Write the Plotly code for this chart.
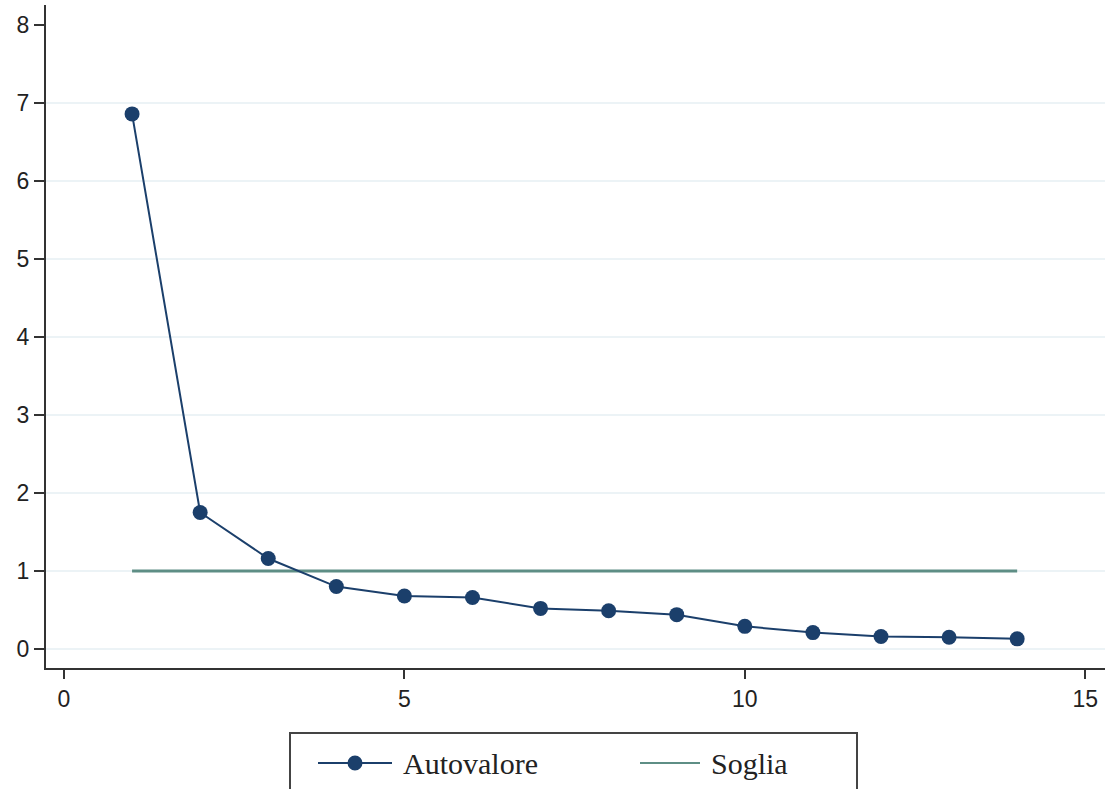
import plotly.graph_objects as go

# Scree plot: eigenvalues per component with the Kaiser threshold
componenti = list(range(1, 15))
autovalori = [6.86, 1.75, 1.16, 0.80, 0.68, 0.66, 0.52, 0.49, 0.44, 0.29, 0.21, 0.16, 0.15, 0.13]
soglia_x = [1, 14]
soglia_y = [1, 1]

x_ticks = [0, 5, 10, 15]
y_ticks = [0, 1, 2, 3, 4, 5, 6, 7, 8]
# horizontal grid levels (none on the top border tick)
grid_levels = [0, 1, 2, 3, 4, 5, 6, 7]

navy = "#1b3f6b"
teal = "#5e8e85"
axis_col = "#333333"
grid_col = "#e6eff3"

fig = go.Figure()
fig.add_trace(go.Scatter(
    x=soglia_x, y=soglia_y, mode="lines", name="Soglia",
    line=dict(color=teal, width=3), showlegend=False,
))
fig.add_trace(go.Scatter(
    x=componenti, y=autovalori, mode="lines+markers", name="Autovalore",
    line=dict(color=navy, width=2),
    marker=dict(color=navy, size=15),
    showlegend=False,
))

# Plot area occupies pixels 46..1105 horizontally, 5..668 vertically
L, R, T, B = 46, 2, 5, 121
W, H = 1107, 789
pw, ph = W - L - R, H - T - B


def px(xp):
    return (xp - L) / pw


def py(yp):
    return (H - B - yp) / ph


shapes = []
annotations = []

for g in grid_levels:
    shapes.append(dict(type="line", xref="paper", yref="y", x0=0, x1=1, y0=g, y1=g,
                       line=dict(color=grid_col, width=1.5), layer="below"))

# Legend frame (runs past the bottom edge of the canvas)
shapes.append(dict(type="rect", xref="paper", yref="paper",
                   x0=px(290), x1=px(857), y0=py(806), y1=py(733),
                   line=dict(color="#444444", width=2), fillcolor="white"))
ly = py(763)
shapes.append(dict(type="line", xref="paper", yref="paper",
                   x0=px(318), x1=px(392), y0=ly, y1=ly,
                   line=dict(color=navy, width=2)))
shapes.append(dict(type="circle", xref="paper", yref="paper",
                   x0=px(347.5), x1=px(362.5), y0=py(770.5), y1=py(755.5),
                   line=dict(color=navy, width=0), fillcolor=navy))
shapes.append(dict(type="line", xref="paper", yref="paper",
                   x0=px(640), x1=px(700), y0=ly, y1=ly,
                   line=dict(color=teal, width=2)))
legend_font = dict(family="Liberation Serif, Times New Roman, serif", size=30, color="#222222")
annotations.append(dict(text="Autovalore", xref="paper", yref="paper",
                        x=px(401), y=ly, xanchor="left", yanchor="middle",
                        showarrow=False, font=legend_font))
annotations.append(dict(text="Soglia", xref="paper", yref="paper",
                        x=px(709), y=ly, xanchor="left", yanchor="middle",
                        showarrow=False, font=legend_font))

tick_font = dict(family="Liberation Sans, Arial, sans-serif", size=23, color="#222222")

fig.update_layout(
    width=W, height=H,
    margin=dict(l=L, r=R, t=T, b=B, autoexpand=False),
    paper_bgcolor="white", plot_bgcolor="white",
    shapes=shapes, annotations=annotations,
    xaxis=dict(
        range=[-0.264, 15.29], tickvals=x_ticks, ticktext=[str(v) for v in x_ticks],
        showgrid=False, zeroline=False,
        showline=True, linecolor=axis_col, linewidth=2,
        ticks="outside", ticklen=9, tickwidth=2, tickcolor=axis_col,
        tickfont=tick_font,
    ),
    yaxis=dict(
        range=[-0.244, 8.256], tickvals=y_ticks, ticktext=[str(v) for v in y_ticks],
        showgrid=False, zeroline=False,
        showline=True, linecolor=axis_col, linewidth=2,
        ticks="outside", ticklen=10, tickwidth=2, tickcolor=axis_col,
        tickfont=tick_font,
    ),
)

fig.write_html("out.html")
